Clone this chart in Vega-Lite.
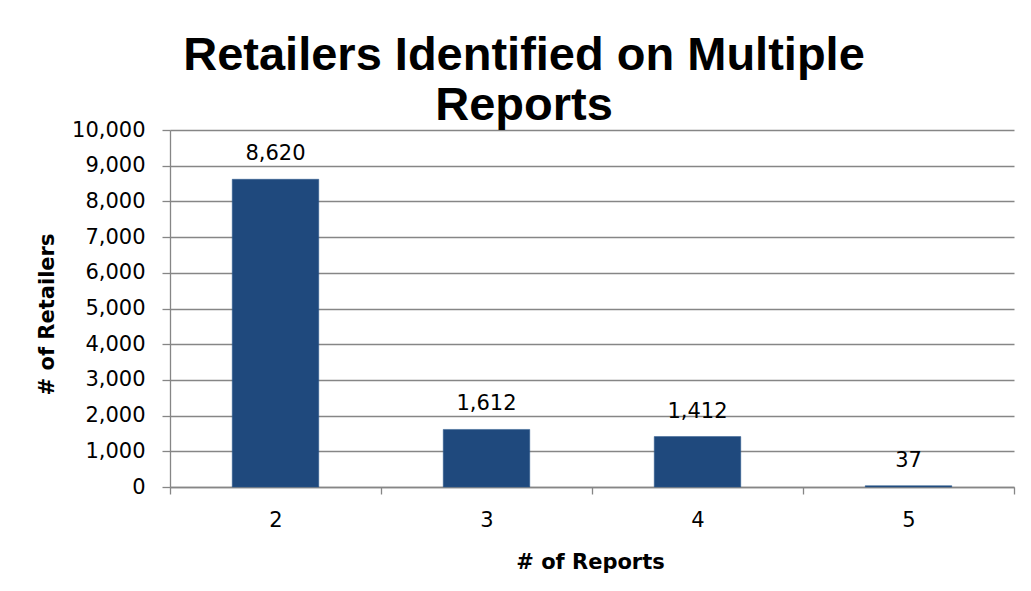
{
  "$schema": "https://vega.github.io/schema/vega-lite/v6.json",
  "width": 844,
  "height": 357,
  "autosize": "none",
  "padding": {"left": 170, "top": 130, "right": 17, "bottom": 104},
  "background": "white",
  "title": {
    "text": ["Retailers Identified on Multiple", "Reports"],
    "font": "Liberation Sans",
    "fontSize": 47,
    "fontWeight": "bold",
    "color": "black",
    "lineHeight": 50,
    "anchor": "middle",
    "frame": "group",
    "dx": -68,
    "dy": 11,
    "offset": 0
  },
  "data": {
    "values": [
      {"reports": "2", "retailers": 8620},
      {"reports": "3", "retailers": 1612},
      {"reports": "4", "retailers": 1412},
      {"reports": "5", "retailers": 37}
    ]
  },
  "encoding": {
    "x": {
      "field": "reports",
      "type": "ordinal",
      "scale": {"paddingInner": 0, "paddingOuter": 0},
      "axis": {
        "title": "# of Reports",
        "labelAngle": 0,
        "tickBand": "extent",
        "tickSize": 7,
        "labelPadding": 26,
        "labelBaseline": "middle",
        "titleX": 420,
        "titleY": 81,
        "titleAlign": "center",
        "titleBaseline": "alphabetic"
      }
    },
    "y": {
      "field": "retailers",
      "type": "quantitative",
      "scale": {"domain": [0, 10000], "nice": false},
      "axis": {
        "title": "# of Retailers",
        "values": [0, 1000, 2000, 3000, 4000, 5000, 6000, 7000, 8000, 9000, 10000],
        "format": ",d",
        "grid": true,
        "tickSize": 8,
        "labelPadding": 17,
        "titleX": -117,
        "titleY": 184,
        "titleAlign": "center",
        "titleBaseline": "alphabetic"
      }
    }
  },
  "layer": [
    {"mark": {"type": "bar", "width": {"band": 0.41}, "color": "#1F497D", "stroke": "#2D5B8F", "strokeWidth": 0.5}},
    {
      "mark": {"type": "text", "dy": -19, "baseline": "alphabetic", "font": "DejaVu Sans", "fontSize": 21, "color": "black"},
      "encoding": {"text": {"field": "retailers", "type": "quantitative", "format": ",d"}}
    }
  ],
  "config": {
    "view": {"stroke": null},
    "axis": {
      "domainColor": "#868686",
      "tickColor": "#868686",
      "gridColor": "#868686",
      "gridOpacity": 1,
      "domainWidth": 1.3,
      "tickWidth": 1.3,
      "gridWidth": 1.3,
      "labelFont": "DejaVu Sans",
      "labelFontSize": 21,
      "labelColor": "black",
      "titleFont": "DejaVu Sans",
      "titleFontSize": 21,
      "titleFontWeight": "bold",
      "titleColor": "black"
    },
    "axisX": {"grid": false}
  }
}
